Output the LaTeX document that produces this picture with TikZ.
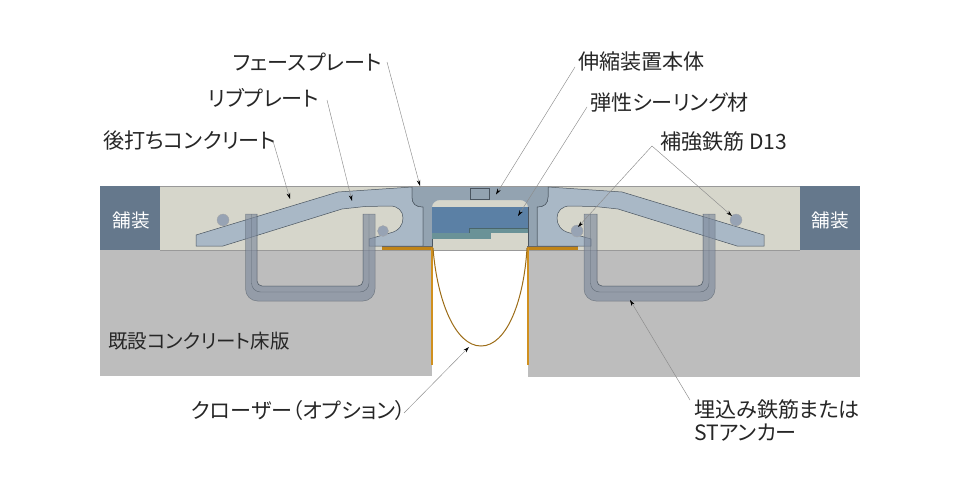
\documentclass[tikz,border=0pt]{standalone}
\usepackage{fontspec}
\setmainfont[RawFeature={+palt}]{Noto Sans CJK JP}
\usetikzlibrary{arrows.meta}
\definecolor{pave}{HTML}{65788C}
\definecolor{beige}{HTML}{D6D6CB}
\definecolor{slab}{HTML}{BDBDBD}
\definecolor{plate}{HTML}{A9B8C6}
\definecolor{face}{HTML}{93A3B1}
\definecolor{blue1}{HTML}{5B80A5}
\definecolor{teal1}{HTML}{6A9297}
\definecolor{bar}{HTML}{7F8B9E}
\definecolor{rebarc}{HTML}{97A3B4}
\definecolor{edge}{HTML}{4A5560}
\definecolor{orange1}{HTML}{D0901F}
\definecolor{sealc}{HTML}{C08418}
\tikzset{
  x=1pt,y=-1pt,
  lbl/.style={anchor=west,inner sep=0pt,font=\fontsize{21.1}{23}\selectfont,text=black!85},
  pavetxt/.style={inner sep=0pt,font=\fontsize{18.6}{20}\selectfont,text=white},
  leader/.style={draw=black!45,line width=.45pt,-{Stealth[length=6pt,width=3.6pt,color=black]}},
  platefill/.style={fill=plate,draw=edge,line width=.5pt},
  ubar/.style={fill=bar,fill opacity=.65,draw=edge,draw opacity=.55,line width=.5pt},
  rebar/.style={circle,fill=rebarc,draw=black!35,line width=.3pt,inner sep=0pt,minimum size=12pt},
}
\begin{document}
\begin{tikzpicture}
\useasboundingbox (0,0) rectangle (960,500);
% ground and pavement
\fill[slab] (100,250) rectangle (432,376);
\fill[slab] (528,250) rectangle (860,377);
\fill[beige] (160,186) rectangle (800,250);
\draw[black!40,line width=.5pt] (160,186) -- (800,186);
\draw[black!40,line width=.5pt] (160,250) -- (800,250);
\fill[pave] (100,186) rectangle (160,250);
\fill[pave] (800,186) rectangle (860,250);
% ribbed plates
\draw[platefill] (196,246) -- (196,235) -- (338,192) -- (412,187) -- (412,197)
  .. controls (412,204) and (416,207) .. (423,207) -- (423,246) -- (369,246) -- (369,239)
  -- (390,233) .. controls (399,231) and (403,225) .. (403,218)
  .. controls (403,211) and (398,206) .. (390,206) -- (365,206.5) -- (342,209) -- (223,246) -- cycle;
\draw[platefill] (764,246) -- (764,235) -- (622,192) -- (548,187) -- (548,197)
  .. controls (548,204) and (544,207) .. (537,207) -- (537,246) -- (591,246) -- (591,239)
  -- (570,233) .. controls (561,231) and (557,225) .. (557,218)
  .. controls (557,211) and (562,206) .. (570,206) -- (595,206.5) -- (618,209) -- (737,246) -- cycle;
% face plate
\fill[face] (412,187) -- (548,187) -- (548,197) .. controls (548,204) and (544,207) .. (537,207)
  -- (537,246) -- (528,246) -- (528,207) .. controls (528,203) and (524,200) .. (520,200)
  -- (440,200) .. controls (436,200) and (432,203) .. (432,207) -- (432,246) -- (423,246) -- (423,207)
  .. controls (416,207) and (412,204) .. (412,197) -- cycle;
\draw[edge,line width=.5pt] (412,187) -- (412,197) .. controls (412,204) and (416,207) .. (423,207) -- (423,246);
\draw[edge,line width=.5pt] (548,187) -- (548,197) .. controls (548,204) and (544,207) .. (537,207) -- (537,246);
\draw[edge,line width=.4pt] (432,207) -- (432,246);
\draw[edge,line width=.4pt] (528,207) -- (528,246);
\draw[edge,line width=.4pt,fill=face] (470,188) rectangle (489,199.5);
% body
\fill[blue1] (432,207) rectangle (528,233);
\fill[teal1] (469,228.5) rectangle (528,233);
\draw[teal1!70!black,line width=.3pt] (469,233) -- (469,228.5) -- (528,228.5);
\fill[teal1] (432,233) rectangle (491,239);
% U-shaped anchors
\draw[ubar] (245.5,214) -- (245.5,289) arc[start angle=180,end angle=90,radius=12] -- (363,301)
  arc[start angle=90,end angle=0,radius=12] -- (375,214) -- (363,214) -- (363,281)
  arc[start angle=0,end angle=90,radius=5] -- (262,286) arc[start angle=90,end angle=180,radius=5] -- (257,214) -- cycle;
\draw[edge,opacity=.8,line width=.4pt] (257,214) -- (257,281) arc[start angle=180,end angle=90,radius=5] -- (358,286) arc[start angle=90,end angle=0,radius=5] -- (363,214);
\draw[edge,opacity=.7,line width=.4pt] (251.5,214) -- (251.5,283) arc[start angle=180,end angle=90,radius=9] -- (360,292) arc[start angle=90,end angle=0,radius=9] -- (369,214);
\draw[ubar] (584,214) -- (584,289) arc[start angle=180,end angle=90,radius=12] -- (703,301)
  arc[start angle=90,end angle=0,radius=12] -- (715,214) -- (703,214) -- (703,281)
  arc[start angle=0,end angle=90,radius=5] -- (602,286) arc[start angle=90,end angle=180,radius=5] -- (597,214) -- cycle;
\draw[edge,opacity=.8,line width=.4pt] (597,214) -- (597,281) arc[start angle=180,end angle=90,radius=5] -- (698,286) arc[start angle=90,end angle=0,radius=5] -- (703,214);
\draw[edge,opacity=.7,line width=.4pt] (590.5,214) -- (590.5,283) arc[start angle=180,end angle=90,radius=9] -- (700,292) arc[start angle=90,end angle=0,radius=9] -- (709,214);
% rebars
\node[rebar] (r1) at (223,220) {};
\node[rebar,minimum size=11pt] (r2) at (383,231) {};
\node[rebar] (r3) at (577,231) {};
\node[rebar] (r4) at (736,220) {};
% closer and seal strips
\fill[sealc] (382,246) rectangle (433,250);
\fill[sealc] (527,246) rectangle (578,250);
\draw[black!60,line width=.5pt] (382,246) -- (433,246);
\draw[black!60,line width=.5pt] (527,246) -- (578,246);
\draw[orange1,line width=2pt] (432,248) -- (432,365);
\draw[orange1,line width=2pt] (527.5,248) -- (527.5,365);
\draw[orange1!75!black,line width=1pt] (433,248) .. controls (437,300) and (455,346) .. (481,346)
  .. controls (507,346) and (524,300) .. (527,248);
% labels
\node[lbl] (fp) at (233,62) {フェースプレート};
\node[lbl] (rp) at (208,98) {リブプレート};
\node[lbl] (ac) at (103,141) {後打ちコンクリート};
\node[lbl] (hb) at (578,62) {伸縮装置本体};
\node[lbl] (ds) at (590,102) {弾性シーリング材};
\node[lbl] (ht) at (660,142) {補強鉄筋 D13};
\node[pavetxt] (p1) at (131,220) {舗装};
\node[pavetxt] (p2) at (830.5,220) {舗装};
\node[lbl] (ks) at (108,341) {\fontsize{19.5}{21}\selectfont 既設コンクリート床版};
\node[lbl] (cl) at (191,410) {クローザー（オプション）};
\node[lbl] (um) at (694,409) {埋込み鉄筋または};
\node[lbl] (st) at (694,433) {STアンカー};
% leader ends
\coordinate (a1) at (420,186);
\coordinate (a2) at (352,201);
\coordinate (a3) at (290,199);
\coordinate (a4) at (496,194.5);
\coordinate (a5) at (518,216);
\coordinate (a6) at (578,227);
\coordinate (a7) at (732,216);
\coordinate (a8) at (630,300);
\coordinate (a9) at (469,347);
\coordinate (s1) at (387,62);
\coordinate (s2) at (327,100);
\coordinate (s3) at (273,141);
\coordinate (s4) at (575,67);
\coordinate (s5) at (587,107);
\coordinate (s6) at (652,146);
\coordinate (s8) at (690,400);
\coordinate (s9) at (404,413);
\draw[leader] (s1) -- (a1);
\draw[leader] (s2) -- (a2);
\draw[leader] (s3) -- (a3);
\draw[leader] (s4) -- (a4);
\draw[leader] (s5) -- (a5);
\draw[leader] (s6) -- (a6);
\draw[leader] (s6) -- (a7);
\draw[leader] (s8) -- (a8);
\draw[leader] (s9) -- (a9);
\end{tikzpicture}
\end{document}
